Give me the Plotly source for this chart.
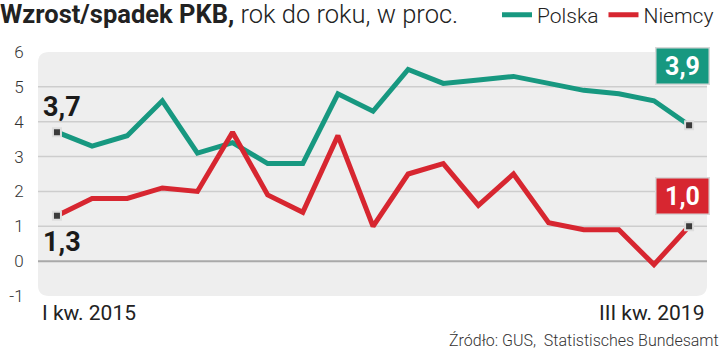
import plotly.graph_objects as go

quarters = ["I kw. 2015", "II kw. 2015", "III kw. 2015", "IV kw. 2015",
            "I kw. 2016", "II kw. 2016", "III kw. 2016", "IV kw. 2016",
            "I kw. 2017", "II kw. 2017", "III kw. 2017", "IV kw. 2017",
            "I kw. 2018", "II kw. 2018", "III kw. 2018", "IV kw. 2018",
            "I kw. 2019", "II kw. 2019", "III kw. 2019"]
polska = [3.7, 3.3, 3.6, 4.6, 3.1, 3.4, 2.8, 2.8, 4.8, 4.3, 5.5, 5.1, 5.2, 5.3, 5.1, 4.9, 4.8, 4.6, 3.9]
niemcy = [1.3, 1.8, 1.8, 2.1, 2.0, 3.7, 1.9, 1.4, 3.6, 1.0, 2.5, 2.8, 1.6, 2.5, 1.1, 0.9, 0.9, -0.1, 1.0]
y_ticks = [-1, 0, 1, 2, 3, 4, 5, 6]
grid_vals = [0, 1, 2, 3, 4, 5]

GREEN = "#179880"
RED = "#d72630"
FONT = "Roboto"

xs = list(range(len(quarters)))
n = len(quarters)


def fmt(v):
    return f"{v:.1f}".replace(".", ",")


fig = go.Figure()
fig.add_trace(go.Scatter(x=xs, y=polska, mode="lines", name="Polska",
                         line=dict(color=GREEN, width=5), hoverinfo="skip"))
fig.add_trace(go.Scatter(x=xs, y=niemcy, mode="lines", name="Niemcy",
                         line=dict(color=RED, width=5), hoverinfo="skip"))
for series in (polska, niemcy):
    fig.add_trace(go.Scatter(x=[xs[0], xs[-1]], y=[series[0], series[-1]], mode="markers",
                             showlegend=False, hoverinfo="skip",
                             marker=dict(symbol="square", size=8, color="#3b3b3b",
                                         line=dict(color="#dedede", width=2))))

# rounded plot background
W, H, r = 669.0, 244.0, 11.0
rx, ry = r / W, r / H
path = (f"M {rx},0 L {1-rx},0 Q 1,0 1,{ry} L 1,{1-ry} Q 1,1 {1-rx},1 "
        f"L {rx},1 Q 0,1 0,{1-ry} L 0,{ry} Q 0,0 {rx},0 Z")
shapes = [dict(type="path", xref="paper", yref="paper", path=path,
               fillcolor="#eeeeee", line=dict(width=0), layer="below")]
for v in grid_vals:
    shapes.append(dict(type="line", xref="paper", yref="y", x0=0, x1=1, y0=v, y1=v,
                       line=dict(color="#a9a9a9" if v == 0 else "#cdcdcd",
                                 width=2 if v == 0 else 1.5),
                       layer="below"))

annotations = [
    dict(x=xs[0], y=polska[0], text=f"<b>{fmt(polska[0])}</b>", showarrow=False,
         xshift=5, yshift=25, font=dict(family=FONT, size=27, color="#1a1a1a")),
    dict(x=xs[0], y=niemcy[0], text=f"<b>{fmt(niemcy[0])}</b>", showarrow=False,
         xshift=5, yshift=-26, font=dict(family=FONT, size=27, color="#1a1a1a")),
    dict(x=xs[-1], y=polska[-1], text=f"<b>{fmt(polska[-1])}</b>", showarrow=False,
         xshift=-7, yshift=59, bgcolor=GREEN, bordercolor="#d8d8d8", borderwidth=1.5,
         borderpad=1, width=50, height=33,
         font=dict(family=FONT, size=25, color="white")),
    dict(x=xs[-1], y=niemcy[-1], text=f"<b>{fmt(niemcy[-1])}</b>", showarrow=False,
         xshift=-7, yshift=30, bgcolor=RED, bordercolor="#d8d8d8", borderwidth=1.5,
         borderpad=1, width=50, height=33,
         font=dict(family=FONT, size=25, color="white")),
    dict(xref="paper", yref="paper", x=0.003, y=-0.07, xanchor="left", yanchor="middle",
         text=quarters[0], showarrow=False, font=dict(family=FONT, size=21, color="#222")),
    dict(xref="paper", yref="paper", x=0.9985, y=-0.07, xanchor="right", yanchor="middle",
         text=quarters[-1], showarrow=False, font=dict(family=FONT, size=21, color="#222")),
    dict(xref="paper", yref="paper", x=1 + 14 / W, y=(296 - 340) / H, xanchor="right",
         yanchor="middle", text="Źródło: GUS,  Statistisches Bundesamt", showarrow=False,
         font=dict(family=FONT, size=16, color="#333", weight=300)),
]

fig.update_layout(
    width=721, height=352,
    margin=dict(l=38, r=14, t=52, b=56, autoexpand=False),
    paper_bgcolor="white", plot_bgcolor="rgba(0,0,0,0)",
    title=dict(text="<b>Wzrost/spadek PKB,</b> rok do roku, w proc.",
               x=0.0, xanchor="left", xref="container",
               y=1 - 14 / 352, yanchor="middle", yref="container",
               font=dict(family=FONT, size=25.5, color="#222", weight=300)),
    legend=dict(orientation="h", xref="container", x=1 - 2 / 721, xanchor="right",
                yref="container", y=1 - 15 / 352, yanchor="middle",
                font=dict(family=FONT, size=21, color="#222", weight=300),
                bgcolor="rgba(0,0,0,0)", itemwidth=30, tracegroupgap=0),
    xaxis=dict(range=[-0.54, n - 1 + 0.51], showgrid=False, zeroline=False,
               showticklabels=False, fixedrange=True),
    yaxis=dict(range=[-1, 6], tickvals=y_ticks, ticktext=[str(v) for v in y_ticks],
               showgrid=False, zeroline=False, ticks="outside", ticklen=10,
               tickcolor="rgba(0,0,0,0)",
               tickfont=dict(family=FONT, size=17, color="#333", weight=300)),
    shapes=shapes, annotations=annotations, showlegend=True,
)

fig.write_html("out.html")
